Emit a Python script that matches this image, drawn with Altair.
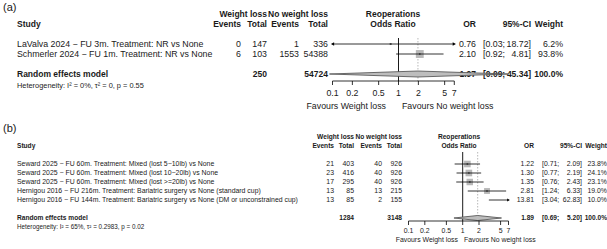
import altair as alt
import pandas as pd

FONT = "Liberation Sans"
TXT = "#1a1a1a"

# ---------------- data: panel (a) ----------------
a_study = ["LaValva 2024 − FU 3m. Treatment: NR vs None",
           "Schmerler 2024 − FU 1m. Treatment: NR vs None"]
a_ev_wl = [0, 6]
a_tot_wl = [147, 103]
a_ev_nw = [1, 1553]
a_tot_nw = [336, 54388]
a_or = [0.76, 2.10]
a_lo = [0.03, 0.92]
a_hi = [18.72, 4.81]
a_wt = [6.2, 93.8]
a_re = [1.97, 0.09, 45.34]
a_re_tot = [250, 54724]
a_het = "Heterogeneity: I² = 0%, τ² = 0, p = 0.55"

# ---------------- data: panel (b) ----------------
b_study = ["Seward 2025 − FU 60m. Treatment: Mixed (lost 5−10lb) vs None",
           "Seward 2025 − FU 60m. Treatment: Mixed (lost 10−20lb) vs None",
           "Seward 2025 − FU 60m. Treatment: Mixed (lost >=20lb) vs None",
           "Hernigou 2016 − FU 216m. Treatment: Bariatric surgery vs None (standard cup)",
           "Hernigou 2016 − FU 144m. Treatment: Bariatric surgery vs None (DM or unconstrained cup)"]
b_ev_wl = [21, 23, 17, 13, 13]
b_tot_wl = [403, 416, 295, 85, 85]
b_ev_nw = [40, 40, 40, 13, 2]
b_tot_nw = [926, 926, 926, 215, 155]
b_or = [1.22, 1.30, 1.35, 2.81, 13.81]
b_lo = [0.71, 0.77, 0.76, 1.24, 3.04]
b_hi = [2.09, 2.19, 2.43, 6.33, 62.83]
b_wt = [23.8, 24.1, 23.1, 19.0, 10.0]
b_re = [1.89, 0.69, 5.20]
b_re_tot = [1284, 3148]
b_het = "Heterogeneity: I² = 65%, τ² = 0.2983, p = 0.02"

ticks = [0.1, 0.2, 0.5, 1, 2, 5, 7]
tick_labels = ["0.1", "0.2", "0.5", "1", "2", "5", "7"]
XMIN, XMAX = 0.1, 7

# ---------------- layout ----------------
L_a = dict(tag="(a)", tag_y=8, row1=44, dy=10, x01=332.5, x7=454.3, fs=8.8, fsb=8.5, het_fs=7.4,
           re_row=4, het_row=5.2, study=17, ev1=241, tot1=267, ev2=299, tot2=328,
           orx=476, ci_l=483, ci_r=531, wt=563, mid=393, ref_top=38, axis_y=81, tick_len=4,
           lab_y=93, fav_y=106, fav_l=386, fav_r=402, dh=0.3, tri=14, maxarea=62, tagfs=11)
L_b = dict(tag="(b)", tag_y=129, row1=164, dy=9, x01=408.5, x7=508.5, fs=6.9, fsb=6.6, het_fs=6.3,
           re_row=7, het_row=8, study=17, ev1=334, tot1=354, ev2=382, tot2=402,
           orx=534, ci_l=542, ci_r=582, wt=607, mid=459, ref_top=152, axis_y=221, tick_len=4,
           lab_y=231, fav_y=240, fav_l=458, fav_r=464, dh=0.28, tri=10, maxarea=44, tagfs=11)


def tlayer(rows, texts, x, align, bold, fs, ys):
    df = pd.DataFrame({"row": rows, "label": [str(t) for t in texts]})
    return alt.Chart(df).mark_text(
        align=align, baseline="middle", font=FONT, fontSize=fs,
        fontWeight="bold" if bold else "normal", color=TXT
    ).encode(x=alt.value(x), y=alt.Y("row:Q", scale=ys, axis=None), text=alt.Text("label:N"))


def plabel(text, x, y, align, fs, bold=False):
    df = pd.DataFrame({"label": [text]})
    return alt.Chart(df).mark_text(
        align=align, baseline="middle", font=FONT, fontSize=fs,
        fontWeight="bold" if bold else "normal", color=TXT
    ).encode(x=alt.value(x), y=alt.value(y), text=alt.Text("label:N"))


def panel(L, study, ev_wl, tot_wl, ev_nw, tot_nw, ors, los, his, wts, re, re_tot, het):
    n = len(study)
    rows = list(range(1, n + 1))
    xs = alt.Scale(type="log", domain=[XMIN, XMAX], range=[L["x01"], L["x7"]], nice=False)
    ys = alt.Scale(domain=[1, 2], range=[L["row1"], L["row1"] + L["dy"]], nice=False, zero=False)
    fs = L["fs"]
    fb = L["fsb"]
    rr = L["re_row"]
    layers = []

    # panel tag
    layers.append(plabel(L["tag"], 3, L["tag_y"], "left", L["tagfs"]))

    # headers
    layers.append(tlayer([-1], ["Study"], L["study"], "left", True, fb, ys))
    layers.append(tlayer([-2, -1], ["Weight loss", "Total"], L["tot1"], "right", True, fb, ys))
    layers.append(tlayer([-1], ["Events"], L["ev1"], "right", True, fb, ys))
    layers.append(tlayer([-2, -1], ["No weight loss", "Total"], L["tot2"], "right", True, fb, ys))
    layers.append(tlayer([-1], ["Events"], L["ev2"], "right", True, fb, ys))
    layers.append(tlayer([-2, -1], ["Reoperations", "Odds Ratio"], L["mid"], "center", True, fb, ys))
    layers.append(tlayer([-1], ["OR"], L["orx"], "right", True, fb, ys))
    layers.append(tlayer([-1], ["95%-CI"], L["ci_r"], "right", True, fb, ys))
    layers.append(tlayer([-1], ["Weight"], L["wt"], "right", True, fb, ys))

    # study rows
    layers.append(tlayer(rows, study, L["study"], "left", False, fs, ys))
    layers.append(tlayer(rows, ev_wl, L["ev1"], "right", False, fs, ys))
    layers.append(tlayer(rows, tot_wl, L["tot1"], "right", False, fs, ys))
    layers.append(tlayer(rows, ev_nw, L["ev2"], "right", False, fs, ys))
    layers.append(tlayer(rows, tot_nw, L["tot2"], "right", False, fs, ys))
    layers.append(tlayer(rows, [f"{v:.2f}" for v in ors], L["orx"], "right", False, fs, ys))
    layers.append(tlayer(rows, [f"[{v:.2f};" for v in los], L["ci_l"], "left", False, fs, ys))
    layers.append(tlayer(rows, [f"{v:.2f}]" for v in his], L["ci_r"], "right", False, fs, ys))
    layers.append(tlayer(rows, [f"{v:.1f}%" for v in wts], L["wt"], "right", False, fs, ys))

    # random effects row
    layers.append(tlayer([rr], ["Random effects model"], L["study"], "left", True, fb, ys))
    layers.append(tlayer([rr], [re_tot[0]], L["tot1"], "right", True, fb, ys))
    layers.append(tlayer([rr], [re_tot[1]], L["tot2"], "right", True, fb, ys))
    layers.append(tlayer([rr], [f"{re[0]:.2f}"], L["orx"], "right", True, fb, ys))
    layers.append(tlayer([rr], [f"[{re[1]:.2f};"], L["ci_l"], "left", True, fb, ys))
    layers.append(tlayer([rr], [f"{re[2]:.2f}]"], L["ci_r"], "right", True, fb, ys))
    layers.append(tlayer([rr], ["100.0%"], L["wt"], "right", True, fb, ys))
    layers.append(tlayer([L["het_row"]], [het], L["study"], "left", False, L["het_fs"], ys))

    # reference line at OR = 1 and dashed line at the summary estimate
    layers.append(alt.Chart(pd.DataFrame({"v": [1.0]})).mark_rule(color="#000", strokeWidth=0.9).encode(
        x=alt.X("v:Q", scale=xs, axis=None), y=alt.value(L["ref_top"]), y2=alt.value(L["axis_y"])))
    layers.append(alt.Chart(pd.DataFrame({"v": [re[0]]})).mark_rule(
        color="#9a9a9a", strokeWidth=0.7, strokeDash=[1.5, 1.5]).encode(
        x=alt.X("v:Q", scale=xs, axis=None), y=alt.value(L["ref_top"]), y2=alt.value(L["axis_y"])))

    # squares (only for estimates inside the axis range)
    sq = pd.DataFrame({"row": rows, "or": ors, "w": wts})
    sq = sq[(sq["or"] >= XMIN) & (sq["or"] <= XMAX)]
    layers.append(alt.Chart(sq).mark_square(filled=True, color="#b8b8b8", opacity=1).encode(
        x=alt.X("or:Q", scale=xs, axis=None), y=alt.Y("row:Q", scale=ys, axis=None),
        size=alt.Size("w:Q", scale=alt.Scale(domain=[0, max(wts)], range=[0, L["maxarea"]]), legend=None)))

    # confidence interval lines (clipped to axis range)
    ci = pd.DataFrame({"row": rows, "lo": los, "hi": his, "or": ors})
    ci["lo_c"] = ci["lo"].clip(lower=XMIN)
    ci["hi_c"] = ci["hi"].clip(upper=XMAX)
    layers.append(alt.Chart(ci).mark_rule(color="#000", strokeWidth=0.8).encode(
        x=alt.X("lo_c:Q", scale=xs, axis=None), x2="hi_c:Q", y=alt.Y("row:Q", scale=ys, axis=None)))

    # small point estimate marker
    small = ci[(ci["or"] >= XMIN) & (ci["or"] <= XMAX)]
    layers.append(alt.Chart(small).mark_point(shape="square", filled=True, color="#333",
                                              size=2.5, opacity=1).encode(
        x=alt.X("or:Q", scale=xs, axis=None), y=alt.Y("row:Q", scale=ys, axis=None)))

    # arrowheads where clipped
    left = ci[ci["lo"] < XMIN]
    right = ci[ci["hi"] > XMAX]
    if len(left):
        layers.append(alt.Chart(left).mark_point(shape="triangle-left", filled=True, color="#000",
                                                 size=L["tri"], opacity=1).encode(
            x=alt.X("lo_c:Q", scale=xs, axis=None), y=alt.Y("row:Q", scale=ys, axis=None)))
    if len(right):
        layers.append(alt.Chart(right).mark_point(shape="triangle-right", filled=True, color="#000",
                                                  size=L["tri"], opacity=1).encode(
            x=alt.X("hi_c:Q", scale=xs, axis=None), y=alt.Y("row:Q", scale=ys, axis=None)))

    # summary diamond
    dh = L["dh"]
    dm = pd.DataFrame({"x": [re[1], re[0], re[2]], "y": [rr, rr - dh, rr], "y2": [rr, rr + dh, rr]})
    layers.append(alt.Chart(dm).mark_area(orient="vertical", color="#bdbdbd", stroke="#4a4a4a",
                                          strokeWidth=0.8, opacity=1).encode(
        x=alt.X("x:Q", scale=xs, axis=None), y=alt.Y("y:Q", scale=ys, axis=None), y2="y2:Q"))

    # x axis (drawn with the log scale)
    layers.append(alt.Chart(pd.DataFrame({"a": [XMIN], "b": [XMAX]})).mark_rule(
        color="#000", strokeWidth=0.8).encode(
        x=alt.X("a:Q", scale=xs, axis=None), x2="b:Q", y=alt.value(L["axis_y"])))
    tk = pd.DataFrame({"t": ticks, "lab": tick_labels})
    layers.append(alt.Chart(tk).mark_rule(color="#000", strokeWidth=0.8).encode(
        x=alt.X("t:Q", scale=xs, axis=None), y=alt.value(L["axis_y"]),
        y2=alt.value(L["axis_y"] + L["tick_len"])))
    layers.append(alt.Chart(tk).mark_text(font=FONT, fontSize=fs, color=TXT, baseline="middle",
                                          align="center").encode(
        x=alt.X("t:Q", scale=xs, axis=None), y=alt.value(L["lab_y"]), text="lab:N"))
    layers.append(plabel("Favours Weight loss", L["fav_l"], L["fav_y"], "right", fs))
    layers.append(plabel("Favours No weight loss", L["fav_r"], L["fav_y"], "left", fs))

    return alt.layer(*layers)


pa = panel(L_a, a_study, a_ev_wl, a_tot_wl, a_ev_nw, a_tot_nw, a_or, a_lo, a_hi, a_wt,
           a_re, a_re_tot, a_het)
pb = panel(L_b, b_study, b_ev_wl, b_tot_wl, b_ev_nw, b_tot_nw, b_or, b_lo, b_hi, b_wt,
           b_re, b_re_tot, b_het)

chart = alt.layer(pa, pb).resolve_scale(
    x="independent", y="independent", size="independent"
).properties(
    width=607, height=249, autosize="none", padding=0, background="white"
).configure_view(stroke=None)

chart.save("out.html", embed_options={"renderer": "svg", "actions": False})
